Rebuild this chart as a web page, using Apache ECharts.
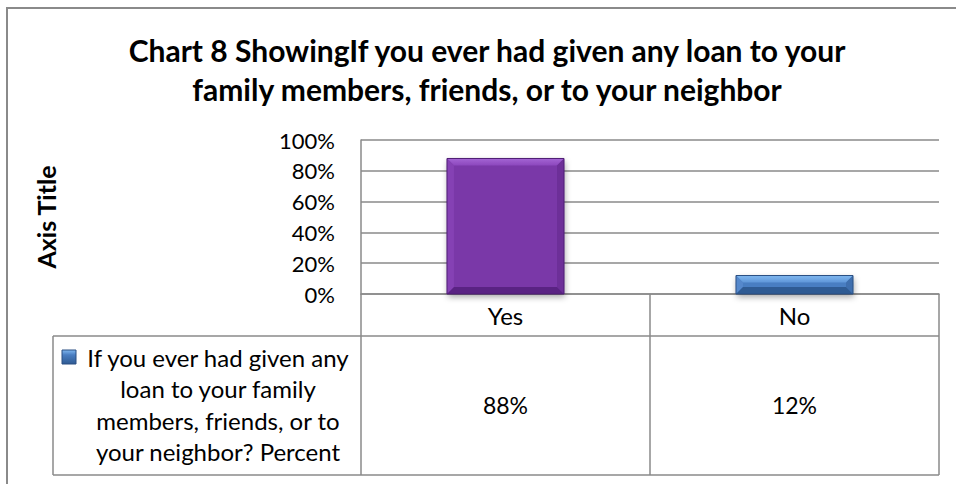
<!DOCTYPE html>
<html>
<head>
<meta charset="utf-8">
<style>
  html, body { margin: 0; padding: 0; background: #ffffff; }
  #chart { width: 956px; height: 484px; }
</style>
<script src="https://cdn.jsdelivr.net/npm/echarts@6/dist/echarts.min.js"></script>
</head>
<body>
<div id="chart"></div>
<script>
// Survey answers and their shares (percent)
const categories = ['Yes', 'No'];
const percentValues = [88, 12];
const yTicks = [0, 20, 40, 60, 80, 100];
const seriesName = 'If you ever had given any loan to your family members, friends, or to your neighbor? Percent';
const seriesLegendLines = ['If you ever had given any', 'loan to your family', 'members, friends, or to', 'your neighbor? Percent'];
const chartTitleLines = ['Chart 8 ShowingIf you ever had given any loan to your', 'family members, friends, or to your neighbor'];
const yAxisTitle = 'Axis Title';

// Bevelled fills per category
const barPalette = [
  { main: '#7a37a8', light: '#a465d4', lightEdge: '#8c47bd', side: '#8541b4', sideR: '#6d2f98', dark: '#5a2383', edge: '#4e1d74' },
  { main: '#4a7ec2', light: '#80b8f0', lightEdge: '#5f96d8', side: '#5588cc', sideR: '#3f6fae', dark: '#2f5b93', edge: '#2a4f82' }
];

const FONT = 'Lato, "Open Sans", sans-serif';
const GRID = { left: 361, top: 140, right: 17, bottom: 190 };
const LINE = '#8a8a8a';

const chart = echarts.init(document.getElementById('chart'), null, { renderer: 'svg' });

function renderBevelBar(params, api) {
  const idx = api.value(0);
  const v = api.value(1);
  const top = api.coord([idx, v]);
  const base = api.coord([idx, 0]);
  const bw = api.size([1, 0])[0] * 0.405;
  const l = top[0] - bw / 2, r = top[0] + bw / 2, t = top[1], b = base[1];
  const c = barPalette[params.dataIndex];
  const bev = Math.min(7, (b - t) / 2.5);
  return {
    type: 'group',
    children: [
      { type: 'rect', shape: { x: l, y: t, width: r - l, height: b - t },
        style: { fill: c.main, shadowColor: 'rgba(0,0,0,0.35)', shadowBlur: 6, shadowOffsetX: 1, shadowOffsetY: 3 } },
      { type: 'polygon', shape: { points: [[l, t], [r, t], [r - bev, t + bev], [l + bev, t + bev]] },
        style: { fill: new echarts.graphic.LinearGradient(0, 0, 0, 1, [
          { offset: 0, color: c.light }, { offset: 1, color: c.lightEdge }]) } },
      { type: 'polygon', shape: { points: [[l, t], [l + bev, t + bev], [l + bev, b - bev], [l, b]] },
        style: { fill: c.side } },
      { type: 'polygon', shape: { points: [[r, t], [r - bev, t + bev], [r - bev, b - bev], [r, b]] },
        style: { fill: c.sideR } },
      { type: 'polygon', shape: { points: [[l, b], [r, b], [r - bev, b - bev], [l + bev, b - bev]] },
        style: { fill: c.dark } },
      { type: 'rect', shape: { x: l, y: t, width: r - l, height: b - t },
        style: { fill: 'none', stroke: c.edge, lineWidth: 1 } }
    ]
  };
}

const chartH = 484;
const tableTop = chartH - GRID.bottom;      // 294: x axis line
const headerBottom = tableTop + 42;         // row divider under category names
const tableBottom = tableTop + 181;         // bottom of the data table
const tableLeft = 53;
const tableRight = 956 - GRID.right;

chart.setOption({
  backgroundColor: '#ffffff',
  animation: false,
  textStyle: { fontFamily: FONT },
  grid: { left: GRID.left, top: GRID.top, right: GRID.right, bottom: GRID.bottom, containLabel: false },
  xAxis: [
    {
      type: 'category',
      data: categories,
      position: 'bottom',
      axisLine: { show: true, lineStyle: { color: LINE, width: 1.5 } },
      axisTick: { show: true, alignWithLabel: false, length: tableBottom - tableTop, lineStyle: { color: LINE, width: 1.5 } },
      axisLabel: { fontSize: 24, color: '#000', margin: 9, fontFamily: FONT }
    },
    {
      type: 'category',
      data: percentValues.map(v => v + '%'),
      position: 'bottom',
      axisLine: { show: false },
      axisTick: { show: false },
      axisLabel: { fontSize: 23, color: '#000', margin: 99, fontFamily: FONT }
    }
  ],
  yAxis: {
    type: 'value',
    min: yTicks[0],
    max: yTicks[yTicks.length - 1],
    interval: yTicks[1] - yTicks[0],
    name: yAxisTitle,
    nameLocation: 'middle',
    nameRotate: 90,
    nameGap: 303,
    nameTextStyle: { fontSize: 25, fontWeight: 'bold', color: '#000', fontFamily: FONT },
    axisLine: { show: true, lineStyle: { color: LINE, width: 1.5 } },
    axisTick: { show: false },
    axisLabel: { fontSize: 22, color: '#000', margin: 26, formatter: '{value}%', fontFamily: FONT },
    splitLine: { show: true, lineStyle: { color: LINE, width: 1.5 } }
  },
  series: [
    {
      name: seriesName,
      type: 'custom',
      xAxisIndex: 0,
      renderItem: renderBevelBar,
      encode: { x: 0, y: 1 },
      data: categories.map((c, i) => [i, percentValues[i]]),
      z: 3
    }
  ],
  graphic: [
    // chart frame
    { type: 'rect', shape: { x: 7, y: 8, width: 980, height: 520 },
      style: { fill: 'none', stroke: LINE, lineWidth: 2 }, z: 0, silent: true },
    // title
    { type: 'text', x: 487, y: 69, z: 5,
      style: { text: chartTitleLines.join('\n'), fontFamily: FONT, fontWeight: 'bold', fontSize: 30,
               lineHeight: 39, fill: '#000', align: 'center', verticalAlign: 'middle' } },
    // data table rules
    { type: 'line', shape: { x1: tableLeft, y1: headerBottom, x2: tableRight, y2: headerBottom },
      style: { stroke: LINE, lineWidth: 1.5 } },
    { type: 'line', shape: { x1: tableLeft, y1: tableBottom, x2: tableRight, y2: tableBottom },
      style: { stroke: LINE, lineWidth: 1.5 } },
    { type: 'line', shape: { x1: tableLeft, y1: headerBottom, x2: tableLeft, y2: tableBottom },
      style: { stroke: LINE, lineWidth: 1.5 } },
    // series key
    { type: 'rect', shape: { x: 62, y: 350, width: 14, height: 14 },
      style: { fill: new echarts.graphic.LinearGradient(0, 0, 0, 1, [
        { offset: 0, color: '#80b8f0' }, { offset: 0.35, color: '#4a7ec2' }, { offset: 1, color: '#2f5b93' }]),
        stroke: '#2a4f82', lineWidth: 1 } },
    { type: 'text', x: 218, y: (headerBottom + tableBottom) / 2 - 1,
      style: { text: seriesLegendLines.join('\n'), fontFamily: FONT, fontSize: 24, lineHeight: 31.5,
               fill: '#000', align: 'center', verticalAlign: 'middle' } }
  ]
});
</script>
</body>
</html>
